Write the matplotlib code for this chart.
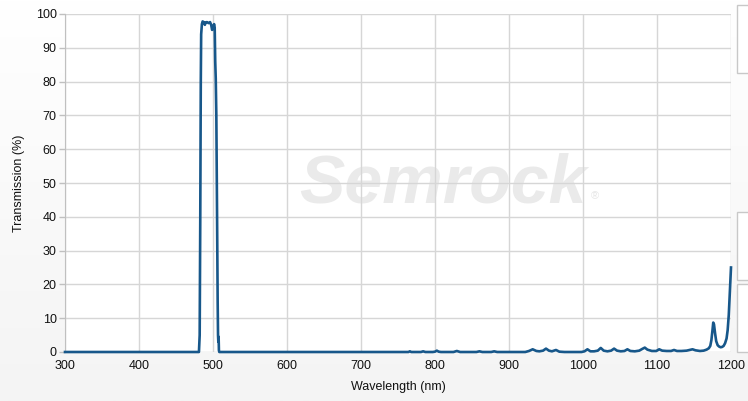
import matplotlib
matplotlib.use("Agg")
import matplotlib.pyplot as plt
import numpy as np
from matplotlib.patches import Rectangle
from matplotlib.colors import LinearSegmentedColormap

plt.rcParams['font.family'] = ['Liberation Sans', 'DejaVu Sans']

# Wavelength (nm) and transmission (%)
wavelength = [300, 481, 482, 482.8, 483.5, 484, 485, 486, 488, 489, 490, 492, 494, 496,
              497.5, 498.8, 500, 501.5, 502.3, 503, 503.7, 504.5, 505.5, 506.3, 506.8,
              507.2, 507.6, 508, 508.5,
              760, 764, 766, 768, 781, 784, 787,
              797, 800, 802.5, 805, 808, 825, 829.5, 834, 856, 860, 864, 876, 880, 884,
              922, 927, 932, 937, 941, 946, 950, 954, 958, 963.5, 968, 975,
              998, 1002, 1006, 1010, 1015, 1020, 1024, 1028, 1033, 1038, 1042, 1046, 1051,
              1056, 1060, 1064, 1070, 1076, 1080, 1083.5, 1087, 1093, 1099, 1103, 1107,
              1113, 1119, 1123, 1127, 1133, 1140, 1144, 1148, 1152, 1158, 1163, 1167,
              1170, 1172, 1173.5, 1175, 1176, 1177, 1178.5, 1180, 1182, 1184, 1186,
              1188, 1190, 1192, 1194, 1195.5, 1197, 1198.5, 1200]
transmission = [0, 0, 5, 40, 80, 94, 97, 97.8, 97.5, 96.8, 97.5, 97.6, 97.3, 97.6,
                96.8, 95.3, 96, 97, 96, 86, 81, 70, 40, 15, 5,
                3, 4.5, 0.5, 0,
                0, 0, 0.2, 0, 0, 0.2, 0,
                0, 0.1, 0.4, 0.1, 0, 0, 0.3, 0, 0, 0.2, 0, 0, 0.2, 0,
                0, 0.3, 0.8, 0.3, 0.2, 0.4, 1.0, 0.4, 0.2, 0.6, 0.1, 0,
                0, 0.2, 0.8, 0.2, 0.2, 0.4, 1.2, 0.4, 0.2, 0.4, 1.0, 0.4, 0.2,
                0.3, 0.8, 0.3, 0.2, 0.4, 0.9, 1.3, 0.7, 0.3, 0.3, 0.8, 0.4,
                0.3, 0.3, 0.6, 0.3, 0.3, 0.4, 0.6, 0.8, 0.5, 0.3, 0.4, 0.7,
                1.1, 1.8, 3.5, 6.5, 8.7, 8.2, 5.5, 3.2, 2.0, 1.6, 1.4,
                1.5, 1.8, 2.6, 4.0, 6.5, 11, 18, 25]

x_ticks = [300, 400, 500, 600, 700, 800, 900, 1000, 1100, 1200]
y_ticks = [0, 10, 20, 30, 40, 50, 60, 70, 80, 90, 100]

W, H = 748, 401
fig = plt.figure(figsize=(W / 100, H / 100), dpi=100)

# background gradient
bg = fig.add_axes([0, 0, 1, 1], zorder=-10)
grad = np.linspace(0, 1, 256).reshape(-1, 1)
cm = LinearSegmentedColormap.from_list('g', ['#ffffff', '#f4f4f4'])
bg.imshow(grad, aspect='auto', cmap=cm, extent=[0, 1, 0, 1], origin='upper')
bg.set_axis_off()

# UI panels on the right
for (x0, y0, x1, y1) in [(737, 5, 760, 73), (737, 212, 760, 280), (737, 284, 760, 352)]:
    bg.add_patch(Rectangle((x0 / W, 1 - y1 / H), (x1 - x0) / W, (y1 - y0) / H,
                           transform=bg.transAxes, facecolor='white',
                           edgecolor='#c8c8c8', lw=1))

ax = fig.add_axes([65 / W, 49 / H, (731 - 65) / W, (352 - 14) / H])
ax.set_facecolor('white')
ax.set_xlim(300, 1200)
ax.set_ylim(0, 100)
ax.set_xticks(x_ticks)
ax.set_yticks(y_ticks)
ax.grid(True, color='#d6d6d6', lw=1)
ax.set_axisbelow(True)
for s in ['top', 'right', 'bottom']:
    ax.spines[s].set_visible(False)
ax.spines['left'].set_color('#c0c0c0')
ax.tick_params(axis='x', length=0, pad=6, labelsize=9, colors='#111111')
ax.tick_params(axis='y', length=4, width=1, color='#c0c0c0', pad=2, labelsize=9,
               labelcolor='#111111')

ax.text(0.567, 0.495, 'Semrock', transform=ax.transAxes, fontsize=49,
        fontweight='bold', style='italic', color='#eaeaea', ha='center', va='center',
        zorder=0)
ax.text(0.795, 0.46, '®', transform=ax.transAxes, fontsize=8,
        color='#e6e6e6', ha='center', va='center', zorder=0)

ax.plot(wavelength, transmission, color='#17578a', lw=1.9, zorder=3, clip_on=False,
        solid_joinstyle='round')

ax.set_xlabel('Wavelength (nm)', fontsize=9, color='#111111', labelpad=6)
ax.set_ylabel('Transmission (%)', fontsize=9, color='#111111', labelpad=8)

fig.savefig('out.png', dpi=100)
